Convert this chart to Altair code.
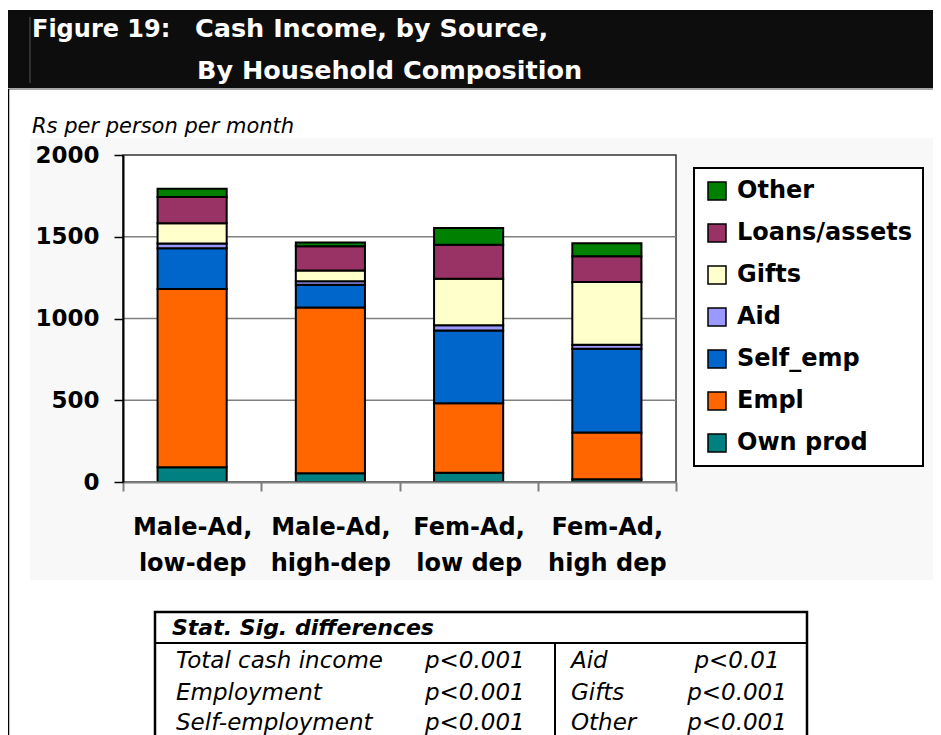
import altair as alt
import pandas as pd

# ---------------- data ----------------
categories = ["Male-Ad, low-dep", "Male-Ad, high-dep", "Fem-Ad, low dep", "Fem-Ad, high dep"]
# stacking order: bottom -> top
sources = ["Own prod", "Empl", "Self_emp", "Aid", "Gifts", "Loans/assets", "Other"]
own_prod = [90, 53, 57, 17]
empl = [1090, 1015, 425, 285]
self_emp = [250, 138, 444, 513]
aid = [28, 22, 32, 25]
gifts = [125, 65, 285, 384]
loans_assets = [160, 149, 208, 157]
other = [50, 23, 102, 80]
source_colors = ["#008080", "#FF6600", "#0066CC", "#9999FF", "#FFFFCC", "#993366", "#008000"]
y_ticks = [0, 500, 1000, 1500, 2000]
grid_values = [500, 1000, 1500]

title_label = "Figure 19:"
title_lines = ["Cash Income, by Source,", "By Household Composition"]
y_unit = "Rs per person per month"
table_header = "Stat. Sig. differences"
table_rows = [
    ["Total cash income", "p<0.001", "Aid", "p<0.01"],
    ["Employment", "p<0.001", "Gifts", "p<0.001"],
    ["Self-employment", "p<0.001", "Other", "p<0.001"],
]

series = [own_prod, empl, self_emp, aid, gifts, loans_assets, other]
rows = []
for si, (src, vals) in enumerate(zip(sources, series)):
    for cat, v in zip(categories, vals):
        rows.append({"category": cat, "source": src, "value": v, "stack_idx": si})
df = pd.DataFrame(rows)
legend_order = sources[::-1]
legend_colors = source_colors[::-1]

# ---------------- layout ----------------
W, H = 553, 327
PAD_L, PAD_T = 115, 147
FONT = "DejaVu Sans"
one = alt.Data(values=[{"k": 0}])


def txt(s, x, y, size, bold=False, italic=False, color="black", align="left"):
    return alt.Chart(one).mark_text(
        text=s, align=align, baseline="alphabetic", font=FONT, fontSize=size,
        fontWeight="bold" if bold else "normal",
        fontStyle="italic" if italic else "normal", color=color,
    ).encode(x=alt.value(x), y=alt.value(y))


def rect(x, x2, y, y2, fill, stroke="black", sw=0, fill_opacity=1):
    return alt.Chart(one).mark_rect(
        fill=fill, fillOpacity=fill_opacity, stroke=stroke, strokeWidth=sw
    ).encode(x=alt.value(x), x2=alt.value(x2), y=alt.value(y), y2=alt.value(y2))


def rule(x, x2, y, y2, color, sw):
    return alt.Chart(one).mark_rule(color=color, strokeWidth=sw).encode(
        x=alt.value(x), x2=alt.value(x2), y=alt.value(y), y2=alt.value(y2)
    )


y_scale = alt.Scale(domain=[0, 2000], nice=False)
y_axis = alt.Axis(
    title=None, values=y_ticks, format="d", labelFont=FONT, labelFontSize=23,
    labelFontWeight="bold", labelColor="black", labelPadding=15,
    tickSize=9, tickColor="black", tickWidth=1.5,
    domainColor="black", domainWidth=2, grid=False, zindex=1,
)

bg = rect(-93, 830, -17, 425, "#f8f8f8")
frame = rect(0, W, 0, H, "white", stroke="#333333", sw=1.5)

grid = alt.Chart(pd.DataFrame({"v": grid_values})).mark_rule(
    color="#808080", strokeWidth=1.5
).encode(
    y=alt.Y("v:Q", axis=y_axis, scale=y_scale),
    x=alt.value(0), x2=alt.value(W),
)

label_expr = ("[slice(datum.label, 0, indexof(datum.label, ',') + 1), "
              "slice(datum.label, indexof(datum.label, ',') + 2)]")

bars = alt.Chart(df).mark_bar(
    stroke="black", strokeWidth=2, width=alt.RelativeBandSize(0.5)
).encode(
    x=alt.X(
        "category:N", sort=categories,
        scale=alt.Scale(paddingInner=0, paddingOuter=0),
        axis=alt.Axis(
            title=None, labelAngle=0, labelExpr=label_expr, labelFont=FONT,
            labelFontSize=24, labelFontWeight="bold", labelColor="black",
            labelLineHeight=36, labelPadding=24, labelOverlap=False, labelLimit=300,
            tickBand="extent", tickSize=9, tickColor="#808080", tickWidth=2,
            domainColor="#808080", domainWidth=2, grid=False, zindex=1,
        ),
    ),
    y=alt.Y("value:Q", stack="zero", scale=y_scale, axis=y_axis),
    color=alt.Color(
        "source:N",
        scale=alt.Scale(domain=legend_order, range=legend_colors),
        legend=alt.Legend(
            title=None, orient="none", legendX=571, legendY=13, direction="vertical",
            padding=11, strokeColor="black", fillColor="white",
            symbolType="square", symbolSize=324, symbolStrokeColor="black",
            symbolStrokeWidth=1.5, labelFont=FONT, labelFontSize=24,
            labelFontWeight="bold", labelColor="black", labelOffset=8,
            labelLimit=300, rowPadding=18,
        ),
    ),
    order=alt.Order("stack_idx:Q", sort="ascending"),
)

# header band
band = rect(-116, 830, -145, -67, "#0d0d0d")
band_line = rule(-116, 830, -66, -66, "#888888", 1.5)
band_vline = rule(-93, -93, -138, -72, "#555555", 1)
left_border = rule(-115, -115, -66, 640, "black", 2.5)
t0 = txt(title_label, -91, -118, 24, bold=True, color="white")
t1 = txt(title_lines[0], 72, -118, 25.5, bold=True, color="white")
t2 = txt(title_lines[1], 74, -76, 25.5, bold=True, color="white")
unit = txt(y_unit, -91, -22, 21, italic=True)

# table
tbl_box = rect(32, 684, 457, 640, "white", stroke="black", sw=2.5, fill_opacity=0)
tbl_sep = rule(32, 684, 488, 488, "black", 2)
tbl_div = rule(432, 432, 488, 640, "black", 2)
tbl_head = txt(table_header, 49, 480, 22, bold=True, italic=True)
row_y = [513, 545, 575]
col_x = [53, 302, 448, 614]
col_align = ["left", "left", "left", "center"]
tbl_text = []
for r, yy in zip(table_rows, row_y):
    for c, xx, al in zip(r, col_x, col_align):
        tbl_text.append(txt(c, xx, yy, 23, italic=True, align=al))

chart = alt.layer(
    bg, frame, grid, bars, band, band_line, band_vline, left_border, t0, t1, t2, unit,
    tbl_box, tbl_sep, tbl_div, tbl_head, *tbl_text,
).properties(
    width=W, height=H,
    padding={"left": PAD_L, "top": PAD_T, "right": 925 - PAD_L - W, "bottom": 727 - PAD_T - H},
    autosize=alt.AutoSizeParams(type="none"),
    background="white",
).configure_view(strokeWidth=0).configure_legend(strokeWidth=2)

chart.save("out.html", embed_options={"renderer": "svg", "actions": False})
